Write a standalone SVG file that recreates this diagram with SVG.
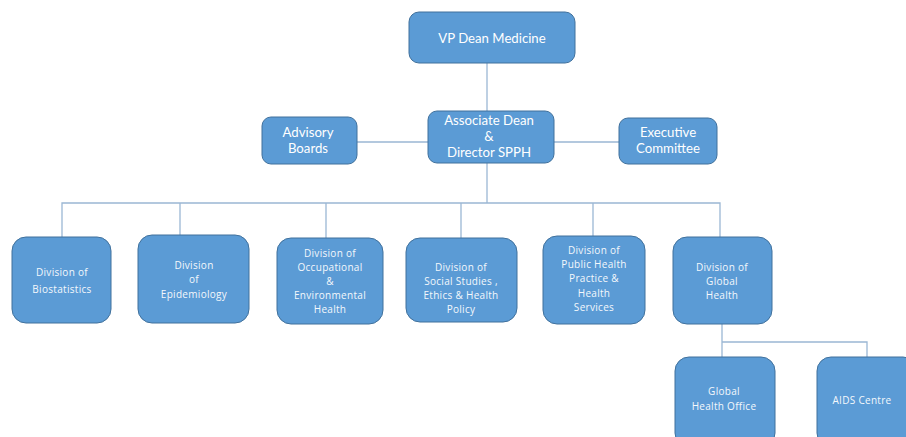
<svg xmlns="http://www.w3.org/2000/svg" width="906" height="437" viewBox="0 0 906 437">
<style>
.box{fill:#5B9BD5;stroke:#41719C;stroke-width:1}
.ln{fill:none;stroke:#9BB7D4;stroke-width:1.3}
.t{fill:#FFFFFF;font-family:Lato,"Liberation Sans",sans-serif;font-size:13.2px;text-anchor:middle}
.s{fill:#F4F8FC;font-family:"Open Sans","Liberation Sans",sans-serif;font-size:10px;letter-spacing:0.3px;text-anchor:middle}
</style>
<rect width="906" height="437" fill="#FFFFFF"/>
<g id="connectors">
<path class="ln" d="M487 63V111"/>
<path class="ln" d="M357 142H428M554 142H619"/>
<path class="ln" d="M487 163V203"/>
<path class="ln" d="M62 237V203H720V237"/>
<path class="ln" d="M180 203V235M326 203V238M461 203V238M593 203V236"/>
<path class="ln" d="M722 324V342M722 342V357M722 342H867V357"/>
</g>
<g id="vp-dean">
<rect class="box" x="409" y="12" width="166" height="51" rx="10"/>
<text class="t" x="492" y="43">VP Dean Medicine</text>
</g>
<g id="assoc-dean">
<rect class="box" x="428" y="111" width="126" height="52" rx="9"/>
<text class="t" x="489" y="125">Associate Dean</text>
<text class="t" x="489" y="141">&amp;</text>
<text class="t" x="489" y="157">Director SPPH</text>
</g>
<g id="advisory">
<rect class="box" x="262" y="117" width="95" height="47" rx="9"/>
<text class="t" x="308" y="137">Advisory</text>
<text class="t" x="308" y="153">Boards</text>
</g>
<g id="executive">
<rect class="box" x="619" y="118" width="98" height="46" rx="9"/>
<text class="t" x="668" y="137">Executive</text>
<text class="t" x="668" y="153">Committee</text>
</g>
<g id="biostatistics">
<rect class="box" x="12" y="237" width="99" height="86" rx="14"/>
<text class="s" x="62" y="276">Division  of</text>
<text class="s" x="62" y="293">Biostatistics</text>
</g>
<g id="epidemiology">
<rect class="box" x="138" y="235" width="111" height="88" rx="14"/>
<text class="s" x="194" y="269">Division</text>
<text class="s" x="194" y="283">of</text>
<text class="s" x="194" y="298">Epidemiology</text>
</g>
<g id="occupational">
<rect class="box" x="277" y="238" width="106" height="86" rx="14"/>
<text class="s" x="330" y="257">Division of</text>
<text class="s" x="330" y="271">Occupational</text>
<text class="s" x="330" y="285">&amp;</text>
<text class="s" x="330" y="299">Environmental</text>
<text class="s" x="330" y="313">Health</text>
</g>
<g id="social">
<rect class="box" x="406" y="238" width="111" height="84" rx="14"/>
<text class="s" x="461" y="271">Division of</text>
<text class="s" x="461" y="285">Social Studies ,</text>
<text class="s" x="461" y="299">Ethics &amp; Health</text>
<text class="s" x="461" y="313">Policy</text>
</g>
<g id="public-health">
<rect class="box" x="543" y="236" width="102" height="88" rx="14"/>
<text class="s" x="594" y="254">Division of</text>
<text class="s" x="594" y="268">Public Health</text>
<text class="s" x="594" y="282">Practice &amp;</text>
<text class="s" x="594" y="297">Health</text>
<text class="s" x="594" y="311">Services</text>
</g>
<g id="global-health">
<rect class="box" x="673" y="237" width="99" height="87" rx="14"/>
<text class="s" x="722" y="271">Division of</text>
<text class="s" x="722" y="285">Global</text>
<text class="s" x="722" y="299">Health</text>
</g>
<g id="global-office">
<rect class="box" x="675" y="357" width="100" height="90" rx="14"/>
<text class="s" x="724" y="395">Global</text>
<text class="s" x="724" y="410">Health Office</text>
</g>
<g id="aids">
<rect class="box" x="817" y="357" width="100" height="90" rx="14"/>
<text class="s" x="862" y="404">AIDS Centre</text>
</g>
</svg>
